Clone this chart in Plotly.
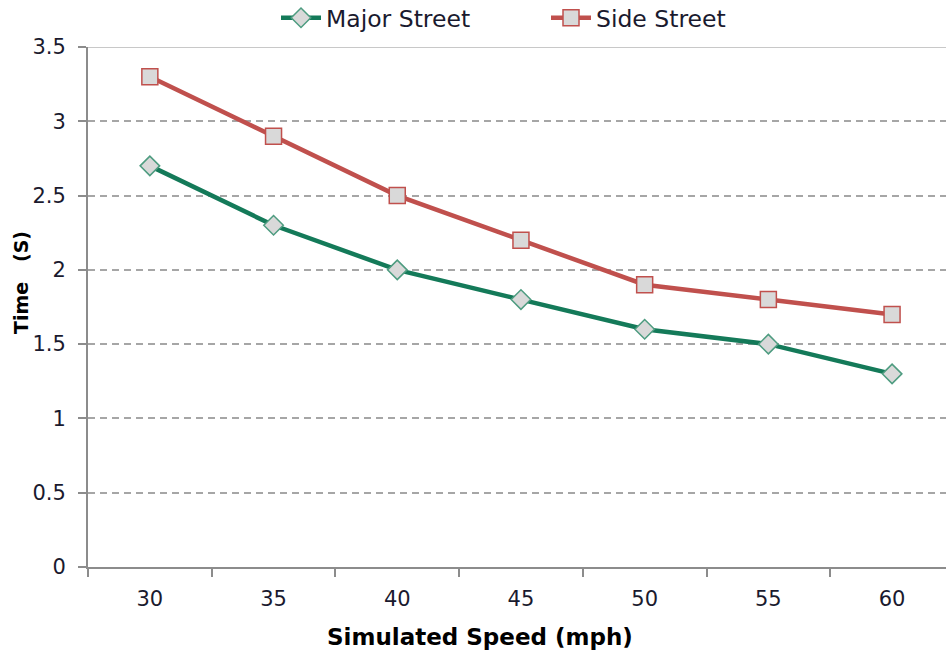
import plotly.graph_objects as go

# Simulated approach speeds (mph) and measured times (s)
speeds = ["30", "35", "40", "45", "50", "55", "60"]
major_street = [2.7, 2.3, 2.0, 1.8, 1.6, 1.5, 1.3]
side_street = [3.3, 2.9, 2.5, 2.2, 1.9, 1.8, 1.7]
y_ticks = [0, 0.5, 1, 1.5, 2, 2.5, 3, 3.5]
y_tick_text = ["0", "0.5", "1", "1.5", "2", "2.5", "3", "3.5"]

GREEN = "#147A59"
RED = "#C0504D"
FONT = "DejaVu Sans"
TEXT = "#1a1a2e"
AXIS = "#8C8C8C"

# plot-area geometry in pixels
L, T, B, W, H = 88, 47, 93, 946, 660
PW, PH = W - L, H - T - B

fig = go.Figure()
fig.add_trace(go.Scatter(
    x=speeds, y=major_street, name="Major Street", mode="lines+markers",
    line=dict(color=GREEN, width=4.5),
    marker=dict(symbol="diamond", size=15, color="#D9D9D9",
                line=dict(color="#4E9C80", width=1.5)),
))
fig.add_trace(go.Scatter(
    x=speeds, y=side_street, name="Side Street", mode="lines+markers",
    line=dict(color=RED, width=4.5),
    marker=dict(symbol="square", size=16, color="#D9D9D9",
                line=dict(color=RED, width=1.5)),
))

fig.update_layout(
    width=W, height=H,
    margin=dict(l=L, r=0, t=T, b=B, autoexpand=False),
    plot_bgcolor="white", paper_bgcolor="white",
    font=dict(family=FONT, size=21, color=TEXT),
    showlegend=True,
    legend=dict(orientation="h", x=(276 - L) / PW, xanchor="left",
                y=(H - B - 18) / PH, yanchor="middle",
                font=dict(size=23.5, color=TEXT), entrywidth=215, entrywidthmode="pixels",
                itemwidth=40, bgcolor="rgba(0,0,0,0)"),
    xaxis=dict(
        type="category", range=[-0.5, 6.436], automargin=False,
        showline=True, linecolor=AXIS, linewidth=2,
        ticks="outside", tickson="boundaries", ticklen=8, tickcolor=AXIS, tickwidth=2,
        showgrid=False, tickfont=dict(size=21, color=TEXT),
        ticklabelstandoff=12,
    ),
    yaxis=dict(
        range=[0, 3.5], tickvals=y_ticks, ticktext=y_tick_text, automargin=False,
        showline=True, linecolor=AXIS, linewidth=2,
        ticks="outside", ticklen=8, tickcolor=AXIS, tickwidth=2,
        showgrid=True, gridcolor="#A6A6A6", griddash="7px,5px", gridwidth=1.5,
        zeroline=False, tickfont=dict(size=21, color=TEXT),
        ticklabelstandoff=8,
    ),
    shapes=[dict(type="line", xref="paper", yref="y", x0=0, x1=1, y0=3.5, y1=3.5,
                 line=dict(color="#C8C8C8", width=2))],
    annotations=[
        dict(text="<b>Simulated Speed (mph)</b>", xref="paper", yref="paper",
             x=(480 - L) / PW, y=-(637 - (H - B)) / PH, xanchor="center", yanchor="middle",
             showarrow=False, font=dict(size=23, color="black")),
        dict(text="<b>Time\u00a0\u00a0\u00a0(S)</b>", xref="paper", yref="paper",
             x=-(L - 21) / PW, y=(H - B - 283) / PH, xanchor="center", yanchor="middle",
             textangle=-90, showarrow=False, font=dict(size=19, color="black")),
    ],
)

fig.write_html("out.html")
